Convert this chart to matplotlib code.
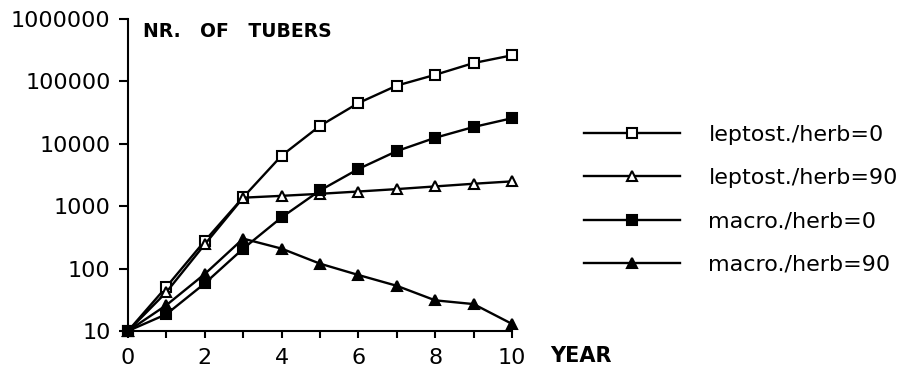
import numpy as np
import matplotlib
matplotlib.use("Agg")
import matplotlib.pyplot as plt

years = list(range(11))
lepto_h0 = [10, 51, 278, 1390, 6460, 19400, 45000, 85700, 127600, 197000, 262000]
lepto_h90 = [10, 42, 245, 1370, 1466, 1580, 1720, 1880, 2075, 2290, 2500]
macro_h0 = [10, 18.6, 58, 209, 662, 1786, 3950, 7640, 12500, 18600, 25700]
macro_h90 = [10, 26, 82, 302, 209, 120, 79, 53, 31, 27, 13]

labels = ["leptost./herb=0", "leptost./herb=90", "macro./herb=0", "macro./herb=90"]
y_ticks = [10, 100, 1000, 10000, 100000, 1000000]
x_tick_labels = ["0", "", "2", "", "4", "", "6", "", "8", "", "10"]

plt.rcParams["font.family"] = "DejaVu Sans"

fig = plt.figure(figsize=(9.06, 3.67), dpi=100)
ax = fig.add_axes([0.1413, 0.0981, 0.4238, 0.8501])

series = [
    (lepto_h0, "s", "white"),
    (lepto_h90, "^", "white"),
    (macro_h0, "s", "black"),
    (macro_h90, "^", "black"),
]
for (vals, mk, fc), lab in zip(series, labels):
    ax.plot(years, vals, color="black", lw=1.7, marker=mk, markersize=7,
            markerfacecolor=fc, markeredgecolor="black", markeredgewidth=1.5,
            label=lab, clip_on=False, zorder=3)

ax.set_yscale("log")
ax.set_ylim(10, 1000000)
ax.set_xlim(0, 10)
ax.set_yticks(y_ticks)
ax.set_yticklabels([str(v) for v in y_ticks])
ax.yaxis.set_minor_locator(matplotlib.ticker.NullLocator())
ax.set_xticks(years)
ax.set_xticklabels(x_tick_labels)

for s in ["top", "right"]:
    ax.spines[s].set_visible(False)
for s in ["left", "bottom"]:
    ax.spines[s].set_linewidth(1.5)

ax.tick_params(axis="y", direction="out", length=6.5, width=1.5, pad=6, labelsize=16)
ax.tick_params(axis="x", direction="out", length=5, width=1.5, pad=7, labelsize=16)

fig.text(0.158, 0.913, "NR.   OF   TUBERS", fontsize=13.5, fontweight="bold", va="center")
fig.text(0.607, 0.0136, "YEAR", fontsize=15, fontweight="bold", va="baseline")

fig.legend(loc="upper left", bbox_to_anchor=(0.6446, 0.66), frameon=False,
           fontsize=16, numpoints=1, handlelength=4.3, handletextpad=1.3,
           labelspacing=1.05, borderpad=0, borderaxespad=0)

fig.savefig("out.png", dpi=100)
